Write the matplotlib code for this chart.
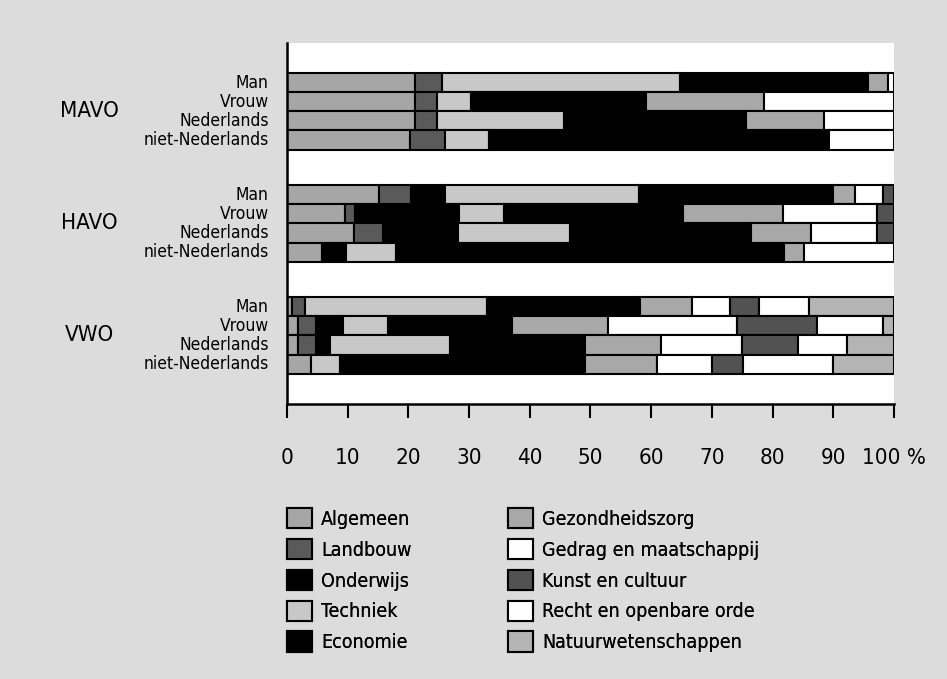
import matplotlib
matplotlib.use("Agg")
import matplotlib.pyplot as plt
from matplotlib.patches import Patch

plt.rcParams['font.family'] = ['DejaVu Sans']
plt.rcParams['font.stretch'] = 'condensed'

# sectoren van de opleidingen, in volgorde van stapelen
sectors = ["Algemeen", "Landbouw", "Onderwijs", "Techniek", "Economie",
           "Gezondheidszorg", "Gedrag en maatschappij", "Kunst en cultuur",
           "Recht en openbare orde", "Natuurwetenschappen"]
sector_colors = ["#a6a6a6", "#5a5a5a", "#000000", "#c8c8c8", "#000000",
                 "#a8a8a8", "#ffffff", "#525252", "#ffffff", "#b4b4b4"]

levels = ["MAVO", "HAVO", "VWO"]
groups = ["Man", "Vrouw", "Nederlands", "niet-Nederlands"]

# percentages per sector (volgorde als 'sectors')
mavo = [
    [21.1, 4.5, 0.0, 39.1, 31.0, 3.3, 1.0, 0.0, 0.0, 0.0],
    [21.1, 3.7, 0.0, 5.6, 28.7, 19.5, 21.4, 0.0, 0.0, 0.0],
    [21.1, 3.7, 0.0, 20.8, 30.1, 12.8, 11.5, 0.0, 0.0, 0.0],
    [20.3, 5.8, 0.0, 7.2, 56.0, 0.0, 10.7, 0.0, 0.0, 0.0],
]
havo = [
    [15.2, 5.2, 5.7, 31.9, 31.9, 3.7, 4.6, 1.8, 0.0, 0.0],
    [9.5, 1.7, 17.1, 7.5, 29.4, 16.5, 15.5, 2.8, 0.0, 0.0],
    [11.0, 4.8, 12.4, 18.4, 29.8, 10.0, 10.8, 2.8, 0.0, 0.0],
    [5.8, 0.0, 4.0, 8.1, 64.0, 3.2, 14.9, 0.0, 0.0, 0.0],
]
vwo = [
    [0.9, 2.0, 0.0, 30.0, 25.3, 8.6, 6.2, 4.8, 8.2, 14.0],
    [1.9, 2.9, 4.4, 7.5, 20.4, 15.8, 21.2, 13.2, 10.9, 1.8],
    [1.9, 2.9, 2.3, 19.8, 22.2, 12.6, 13.3, 9.2, 8.0, 7.8],
    [3.9, 0.0, 0.0, 4.9, 40.3, 11.8, 9.1, 5.1, 14.9, 10.0],
]
tables = [mavo, havo, vwo]

xticks = [0, 10, 20, 30, 40, 50, 60, 70, 80, 90, 100]
xticklabels = ["0", "10", "20", "30", "40", "50", "60", "70", "80", "90", "100 %"]

fig = plt.figure(figsize=(9.47, 6.79), dpi=100)
fig.patch.set_facecolor("#dcdcdc")
ax = fig.add_axes([0.303, 0.405, 0.641, 0.532])
ax.set_facecolor("white")

group_step = 5.85
for g, table in enumerate(tables):
    for i, row in enumerate(table):
        y = g * group_step + i
        left = 0.0
        for val, col in zip(row, sector_colors):
            if val > 0:
                ax.barh(y, val, left=left, height=1.0, color=col,
                        edgecolor="black", linewidth=1.5)
            left += val
        ax.text(-3.0, y, groups[i], ha="right", va="center", fontsize=12.5)
    ax.text(-32.5, g * group_step + 1.5, levels[g], ha="center", va="center",
            fontsize=16)

ax.set_xlim(0, 100)
ax.set_ylim(2 * group_step + 3 + 0.5 + 1.58, -0.5 - 1.58)
ax.set_yticks([])
ax.set_xticks(xticks)
ax.set_xticklabels(xticklabels, fontsize=16)
ax.tick_params(axis="x", direction="out", length=10, width=1.5, pad=22)
for s in ["top", "right"]:
    ax.spines[s].set_visible(False)
for s in ["left", "bottom"]:
    ax.spines[s].set_linewidth(1.8)

handles = [Patch(facecolor=c, edgecolor="black", linewidth=1.5)
           for c in sector_colors]
for k, xpos in enumerate([287 / 947, 508 / 947]):
    leg = fig.legend(handles[k * 5:(k + 1) * 5], sectors[k * 5:(k + 1) * 5],
                     loc="upper left", bbox_to_anchor=(xpos, 1 - 508 / 679),
                     frameon=False, fontsize=14, handlelength=1.29,
                     handleheight=1.24, handletextpad=0.45, labelspacing=0.52,
                     borderpad=0, borderaxespad=0)
    fig.add_artist(leg)

fig.savefig("out.png", dpi=100, facecolor=fig.get_facecolor())
